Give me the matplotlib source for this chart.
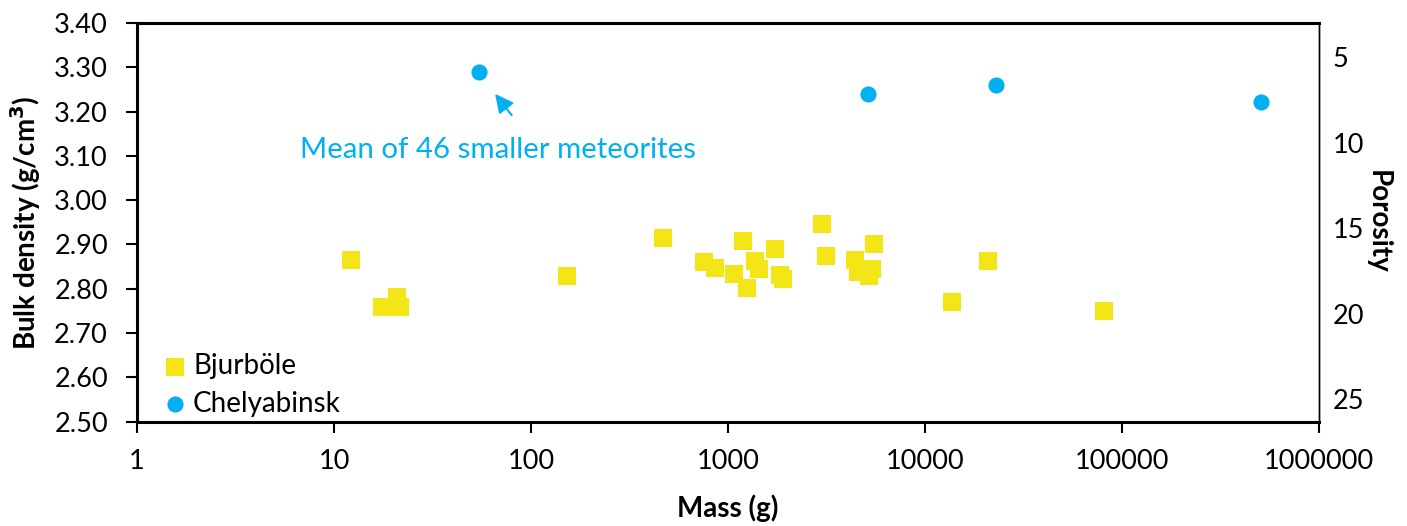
import matplotlib
matplotlib.use("Agg")
import matplotlib.pyplot as plt
from matplotlib.ticker import FixedLocator, NullLocator, FuncFormatter

plt.rcParams['font.family'] = ['Lato', 'DejaVu Sans']

# Bjurböle fragments: mass (g) and bulk density (g/cm3)
bjurbole_mass = [12.2, 17.5, 20.8, 20.8, 21.6, 153, 469, 758, 862, 1076, 1186, 1242,
                 1364, 1444, 1722, 1825, 1891, 2985, 3126, 4385, 4545, 5348, 5166,
                 5478, 13640, 20990, 80540]
bjurbole_density = [2.864, 2.760, 2.782, 2.774, 2.760, 2.830, 2.914, 2.860, 2.846,
                    2.833, 2.907, 2.801, 2.862, 2.844, 2.889, 2.832, 2.823, 2.947,
                    2.875, 2.864, 2.837, 2.844, 2.830, 2.902, 2.771, 2.862, 2.749]

# Chelyabinsk
chely_mass = [54.5, 5137, 22930, 505800]
chely_density = [3.289, 3.240, 3.260, 3.222]

x_ticks = [1, 10, 100, 1000, 10000, 100000, 1000000]
y_ticks = [2.5, 2.6, 2.7, 2.8, 2.9, 3.0, 3.1, 3.2, 3.3, 3.4]
porosity_ticks = [5, 10, 15, 20, 25]

yellow = '#F4E516'
blue = '#00B0F0'

fig = plt.figure(figsize=(14.07, 5.26), dpi=100)
ax = fig.add_axes([0.0974, 0.1983, 0.8401, 0.758])

ax.scatter(bjurbole_mass, bjurbole_density, marker='s', s=150, color=yellow,
           linewidths=0, label='Bjurböle', zorder=3)
ax.scatter(chely_mass, chely_density, marker='o', s=135, color=blue,
           linewidths=0, label='Chelyabinsk', zorder=3)

ax.set_xscale('log')
ax.set_xlim(1, 1e6)
ax.set_ylim(2.5, 3.4)
ax.xaxis.set_major_locator(FixedLocator(x_ticks))
ax.xaxis.set_minor_locator(NullLocator())
ax.xaxis.set_major_formatter(FuncFormatter(lambda v, p: f'{int(round(v))}'))
ax.yaxis.set_major_locator(FixedLocator(y_ticks))
ax.yaxis.set_major_formatter(FuncFormatter(lambda v, p: f'{v:.2f}'))

ax.tick_params(axis='both', direction='out', length=8, width=1.5, labelsize=19.5,
               color='black', labelcolor='black')
ax.tick_params(axis='x', pad=12)
ax.tick_params(axis='y', pad=13)

for side in ['left', 'bottom', 'top']:
    ax.spines[side].set_linewidth(2.2)
ax.spines['right'].set_linewidth(1.0)

ax.set_xlabel('Mass (g)', fontsize=20, fontweight='bold', labelpad=14)
ax.set_ylabel('Bulk density (g/cm$^{\\mathbf{3}}$)', fontsize=20, fontweight='bold',
              labelpad=8)

ax2 = ax.twinx()
ax2.set_ylim(26.3, 3.0)
ax2.yaxis.set_major_locator(FixedLocator(porosity_ticks))
ax2.tick_params(axis='y', length=0, labelsize=19.5, pad=10)
ax2.spines['right'].set_linewidth(1.0)
for side in ['left', 'bottom', 'top']:
    ax2.spines[side].set_visible(False)
ax2.set_ylabel('Porosity', fontsize=20, fontweight='bold', rotation=-90, labelpad=19)

ax.annotate('', xy=(64.4, 3.245), xytext=(81.3, 3.187),
            arrowprops=dict(arrowstyle='-|>', color=blue, lw=1.5, mutation_scale=28))
ax.text(6.7, 3.113, 'Mean of 46 smaller meteorites', color=blue, fontsize=21.2,
        ha='left', va='center')

ax.legend(loc='lower left', frameon=False, fontsize=20, handlelength=1.0,
          handletextpad=0.15, borderpad=0.4, borderaxespad=0, labelspacing=0.42,
          bbox_to_anchor=(0.011, -0.015))

fig.savefig('out.png', dpi=100)
